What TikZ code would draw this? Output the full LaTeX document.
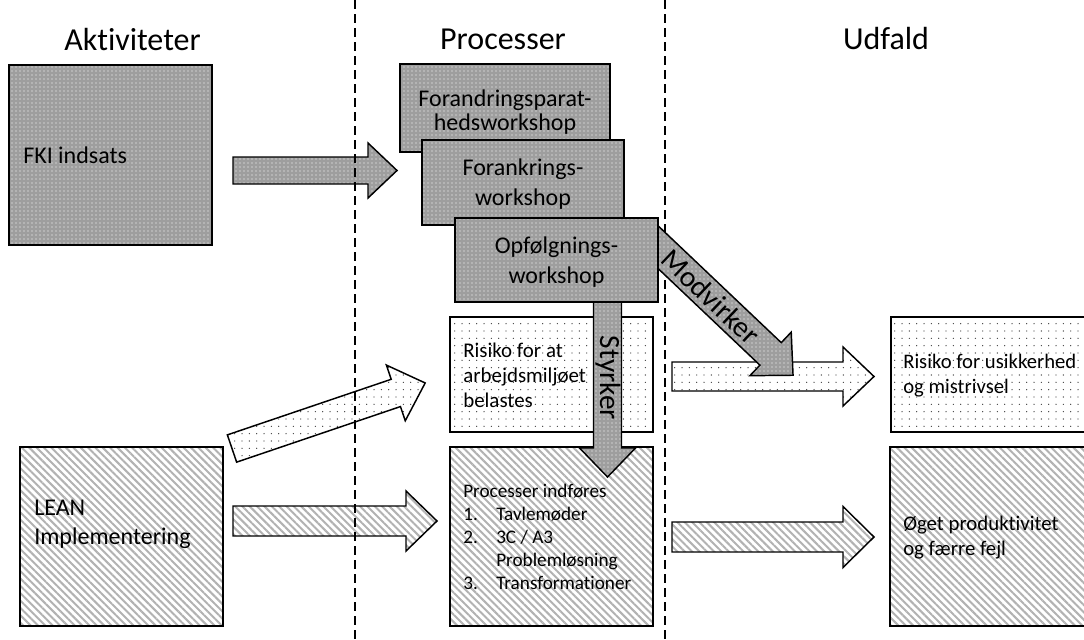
\documentclass[tikz,border=0pt]{standalone}
\usepackage{fontspec}
\setmainfont{Carlito}[Ligatures=NoCommon]
\usetikzlibrary{patterns.meta,fit}
\definecolor{darkfill}{RGB}{158,158,158}
\tikzset{
  outline/.style={draw=black, line width=1.1pt, line join=miter},
  darkpat/.style={outline, preaction={fill=darkfill}, pattern={Dots[distance=3pt,radius=0.5pt]}, pattern color=white},
  lightpat/.style={outline, preaction={fill=white}, pattern={Dots[distance=5.5pt,radius=0.5pt]}, pattern color=black!75},
  hatchpat/.style={outline, preaction={fill=white}, pattern={Lines[angle=-45,distance=3.9pt,line width=1.5pt]}, pattern color=black!30},
  divider/.style={draw=black, line width=1.7pt, dash pattern=on 6.5pt off 4pt},
  titletext/.style={font=\fontsize{24}{29}\selectfont},
  bigtext/.style={font=\fontsize{18}{21.75}\selectfont, inner sep=0pt},
  arrtext/.style={font=\fontsize{22}{26}\selectfont, inner sep=0pt},
}
% name, style, x, y, angle, length, body half, head half, head length
\newcommand{\blockarr}[9]{%
  \path[#2,shift={(#3,#4)},rotate=#5] (0,-#7) coordinate (#1-tail) -- ({#6-#9},-#7) -- ({#6-#9},-#8) -- (#6,0) coordinate (#1-tip) -- ({#6-#9},#8) -- ({#6-#9},#7) -- (0,#7) -- cycle;
}
\begin{document}
\begin{tikzpicture}[x=0.75pt,y=-0.75pt]
\useasboundingbox (0,0) rectangle (1084,639);
\clip (0,0) rectangle (1084,639);

% titles
\node[titletext, anchor=base] (t1) at (132.5,50) {Aktiviteter};
\node[titletext, anchor=base] (t2) at (503,49) {Processer};
\node[titletext, anchor=base] (t3) at (886,49) {Udfald};

% arrows crossing the first divider
\blockarr{afki}{darkpat}{233}{170.5}{0}{164}{13.5}{27.5}{29}
\blockarr{adiag}{lightpat}{232}{448.5}{18.74}{204}{14.4}{29.4}{31}
\blockarr{alean}{hatchpat}{233}{521}{0}{204}{15}{30}{31}

% dividers
\coordinate (d1t) at (355,0); \coordinate (d1b) at (355,639);
\coordinate (d2t) at (665,0); \coordinate (d2b) at (665,639);
\draw[divider] (d1t) -- (d1b);
\draw[divider] (d2t) -- (d2b);

% activity boxes
\node[darkpat, fit={(9,65)(212,245)}, inner sep=0pt] (fki) {};
\node[bigtext, anchor=base west] (fkit) at (23,163) {FKI indsats};
\node[hatchpat, fit={(20,447)(223,626)}, inner sep=0pt] (lean) {};
\node[font=\fontsize{18}{21.75}\selectfont, inner sep=0pt, anchor=west, align=left] (leant) at (34,524) {LEAN\\Implementering};

% process boxes
\node[lightpat, fit={(450,317)(653,432)}, inner sep=0pt] (risk1) {};
\node[font=\fontsize{15.7}{18.75}\selectfont, inner sep=0pt, anchor=west, align=left] (risk1t) at (463,375) {Risiko for at\\arbejdsmiljøet\\belastes};
\node[hatchpat, fit={(450,447)(653,626)}, inner sep=0pt] (proc) {};
\node[font=\fontsize{14.4}{17.25}\selectfont, inner sep=0pt, anchor=west, align=left] (proct) at (463,537) {Processer indføres\\\makebox[24.75pt][l]{1.}Tavlemøder\\\makebox[24.75pt][l]{2.}3C / A3\\\makebox[24.75pt][l]{}Problemløsning\\\makebox[24.75pt][l]{3.}Transformationer};

% outcome boxes
\node[lightpat, fit={(891,317)(1100,432)}, inner sep=0pt] (risk2) {};
\node[font=\fontsize{15.5}{18.75}\selectfont, inner sep=0pt, anchor=west, align=left] (risk2t) at (903,376) {Risiko for usikkerhed\\og mistrivsel};
\node[hatchpat, fit={(890,447)(1100,626)}, inner sep=0pt] (prod) {};
\node[font=\fontsize{15.6}{18.75}\selectfont, inner sep=0pt, anchor=west, align=left] (prodt) at (903,538) {Øget produktivitet\\og færre fejl};

% arrows to outcomes
\blockarr{ard}{lightpat}{672}{376.5}{0}{202}{14.5}{29.5}{31}
\blockarr{arh}{hatchpat}{672}{537}{0}{202}{15}{30.5}{31}

% Modvirker and Styrker
\blockarr{amod}{darkpat}{640}{230}{-43.5}{211}{15.5}{30}{31}
\blockarr{asty}{darkpat}{607.5}{290}{-90}{187}{14}{28}{29}
\node[arrtext, rotate=-43.5] (modt) at (711,297) {Modvirker};
\node[arrtext, rotate=-90] (styt) at (608,378) {Styrker};

% workshop boxes
\node[darkpat, fit={(400,64)(610,152)}, inner sep=0pt] (w1) {};
\node[font=\fontsize{18}{18}\selectfont, inner sep=0pt, align=center] (w1t) at (505,112) {Forandringsparat-\\hedsworkshop};
\node[darkpat, fit={(422,140)(624,225)}, inner sep=0pt] (w2) {};
\node[font=\fontsize{18}{22.5}\selectfont, inner sep=0pt, align=center] (w2t) at (523,184) {Forankrings-\\workshop};
\node[darkpat, fit={(455,218)(658,302)}, inner sep=0pt] (w3) {};
\node[font=\fontsize{18}{22.5}\selectfont, inner sep=0pt, align=center] (w3t) at (556.5,262) {Opfølgnings-\\workshop};
\end{tikzpicture}
\end{document}
